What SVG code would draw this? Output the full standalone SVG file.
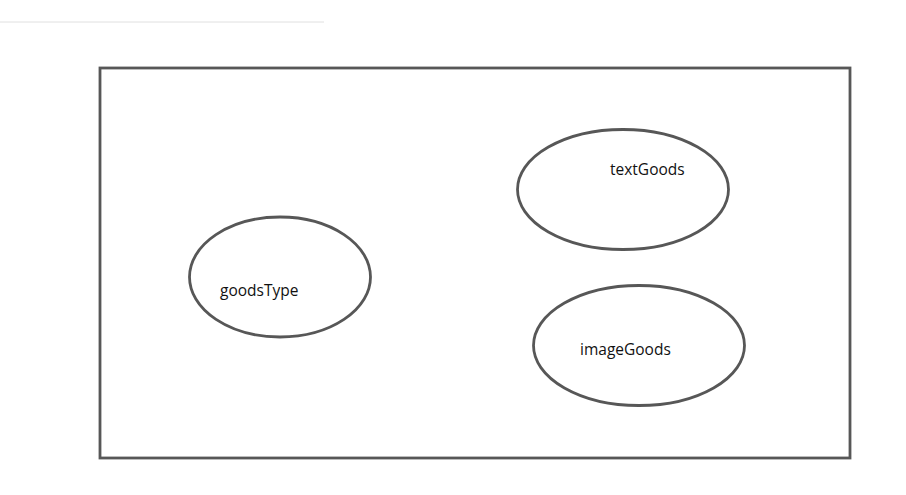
<svg xmlns="http://www.w3.org/2000/svg" width="906" height="495" viewBox="0 0 906 495">
<style>
.shape{fill:none;stroke:#575757;stroke-width:2.8}
.lbl{font-family:"Open Sans","Liberation Sans",sans-serif;font-size:15.5px;fill:#111}
</style>
<rect x="0" y="0" width="906" height="495" fill="#fff"/>
<line x1="0" y1="22" x2="324" y2="22" stroke="#e0e0e0" stroke-width="1"/>
<g id="container"><rect class="shape" x="100" y="68" width="750" height="390"/></g>
<g id="goodsType">
<ellipse class="shape" cx="280" cy="277" rx="90.5" ry="60"/>
<text class="lbl" x="220" y="296">goodsType</text>
</g>
<g id="textGoods">
<ellipse class="shape" cx="623" cy="189.5" rx="105.5" ry="60"/>
<text class="lbl" x="610" y="175">textGoods</text>
</g>
<g id="imageGoods">
<ellipse class="shape" cx="639" cy="345.5" rx="105.5" ry="60"/>
<text class="lbl" x="580" y="355">imageGoods</text>
</g>
<g id="connectors"></g>
</svg>
